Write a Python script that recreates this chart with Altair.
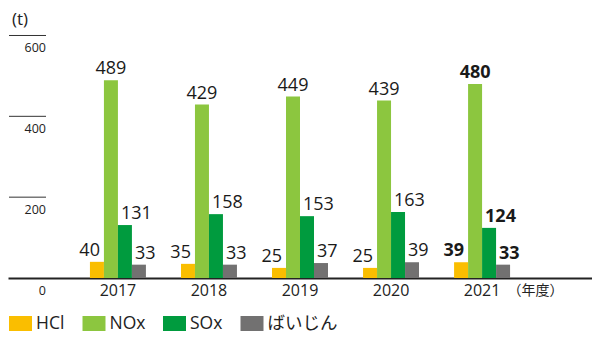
import altair as alt
import pandas as pd

FONT = "Open Sans, Noto Sans CJK JP"

years = ["2017", "2018", "2019", "2020", "2021"]
series = ["HCl", "NOx", "SOx", "ばいじん"]
hcl = [40, 35, 25, 25, 39]
nox = [489, 429, 449, 439, 480]
sox = [131, 158, 153, 163, 124]
dust = [33, 33, 37, 39, 33]
colors = ["#FABE00", "#8CC63F", "#009B3E", "#727171"]
y_ticks = [0, 200, 400, 600]
bold_year = "2021"

rows = []
for s, vals in zip(series, [hcl, nox, sox, dust]):
    for y, v in zip(years, vals):
        rows.append({"year": y, "series": s, "value": v,
                     "w": "bold" if y == bold_year else "normal"})
df = pd.DataFrame(rows)

yscale = alt.Scale(domain=[0, 668], nice=False, zero=True)
x_enc = alt.X("year:N",
              scale=alt.Scale(domain=years, paddingInner=0.385, paddingOuter=0.9),
              axis=alt.Axis(title=None, domain=True, domainColor="#222", domainWidth=2,
                            ticks=False, labelAngle=0, labelFont=FONT, labelFontSize=16,
                            labelColor="#222", labelPadding=4, grid=False))
xo_enc = alt.XOffset("series:N", scale=alt.Scale(domain=series, paddingInner=0, paddingOuter=0))
y_enc = alt.Y("value:Q", scale=yscale, axis=None)

base = alt.Chart(df)

bars = base.mark_bar().encode(
    x=x_enc, xOffset=xo_enc, y=y_enc,
    color=alt.Color("series:N", scale=alt.Scale(domain=series, range=colors),
                    legend=alt.Legend(title=None, orient="none", legendX=1, legendY=304,
                                      direction="horizontal", columns=4,
                                      symbolType="M-1,-0.65H1V0.65H-1Z", symbolSize=529,
                                      symbolStrokeWidth=0, symbolOpacity=1,
                                      labelFont=FONT, labelFontSize=17.5, labelColor="#222",
                                      labelOffset=4, columnPadding=17.5, padding=0,
                                      offset=0, rowPadding=0, labelLimit=200)),
)

def text_layer(sel, align, dx, weight):
    return base.transform_filter(
        alt.FieldOneOfPredicate(field="series", oneOf=sel)
    ).transform_filter(
        alt.FieldEqualPredicate(field="w", equal=weight)
    ).mark_text(align=align, baseline="alphabetic", dx=dx, dy=-6, font=FONT,
                fontSize=18, fontWeight=weight, color="#1a1a1a").encode(
        x=x_enc, xOffset=xo_enc, y=y_enc, text="value:Q")

texts = []
for w in ["normal", "bold"]:
    texts.append(text_layer(["HCl"], "right", 3, w))
    texts.append(text_layer(["NOx"], "center", 0, w))
    texts.append(text_layer(["SOx", "ばいじん"], "left", -4, w))

tick_df = pd.DataFrame({"tick": y_ticks})
rules = alt.Chart(tick_df).transform_filter(alt.datum.tick > 0).mark_rule(
    color="#333", strokeWidth=1).encode(
    y=alt.Y("tick:Q", scale=yscale, axis=None), x=alt.value(1), x2=alt.value(38))
tick_labels = alt.Chart(tick_df).mark_text(
    align="right", baseline="top", dy=7, font=FONT, fontSize=12.5, color="#222").encode(
    y=alt.Y("tick:Q", scale=yscale, axis=None), x=alt.value(38), text="tick:Q")

unit = alt.Chart(pd.DataFrame({"t": ["(t)"]})).mark_text(
    align="left", baseline="middle", font=FONT, fontSize=17, color="#222").encode(
    x=alt.value(4), y=alt.value(12), text="t:N")
nendo = alt.Chart(pd.DataFrame({"t": ["（年度）"]})).mark_text(
    align="center", baseline="middle", font=FONT, fontSize=14, color="#222").encode(
    x=alt.value(527.5), y=alt.value(283), text="t:N")

chart = alt.layer(bars, *texts, rules, tick_labels, unit, nendo).properties(
    width=584, height=270,
    padding={"left": 0, "top": 0, "right": 0, "bottom": 70},
    autosize=alt.AutoSizeParams(type="none"),
).configure_view(stroke=None)

chart.save("out.html", embed_options={"renderer": "svg", "actions": False})
